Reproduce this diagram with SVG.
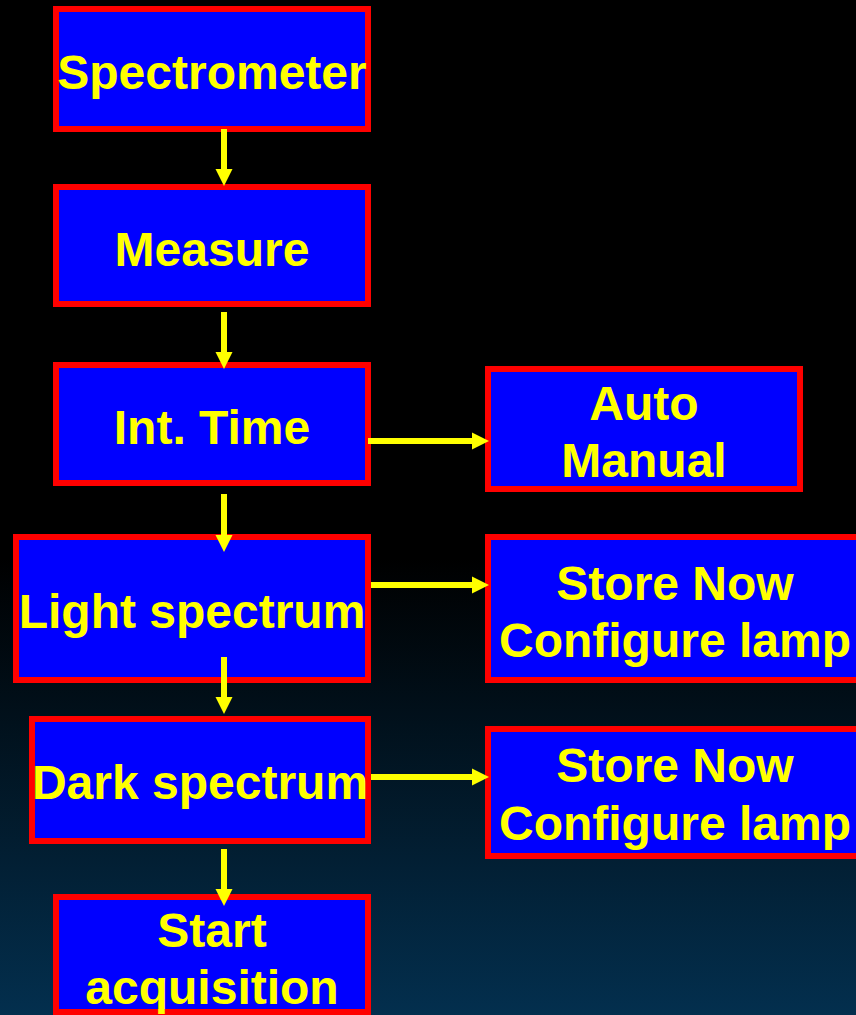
<svg xmlns="http://www.w3.org/2000/svg" width="856" height="1015" viewBox="0 0 856 1015">
<defs>
<linearGradient id="bg" x1="0" y1="0" x2="0" y2="1">
<stop offset="0" stop-color="#000000"/>
<stop offset="0.55" stop-color="#000000"/>
<stop offset="1" stop-color="#032f4e"/>
</linearGradient>
<marker id="ah" markerUnits="userSpaceOnUse" markerWidth="18" markerHeight="18" viewBox="0 -9 18 18" refX="0" refY="0" orient="auto" overflow="visible">
<path d="M0,-8.5 L17,0 L0,8.5 Z" fill="#ffff00"/>
</marker>
<style>
.box{fill:#0000ff;stroke:#ff0000;stroke-width:6}
.t{font-family:"Liberation Sans",Arial,sans-serif;font-weight:bold;font-size:48px;fill:#ffff00;text-anchor:middle}
.c{stroke:#ffff00;stroke-width:6;fill:none;marker-end:url(#ah)}
</style>
</defs>
<rect x="0" y="0" width="856" height="1015" fill="url(#bg)"/>
<g id="spectrometer"><rect class="box" x="56" y="9" width="312" height="120"/><text class="t" x="212" y="89">Spectrometer</text></g>
<g id="measure"><rect class="box" x="56" y="187" width="312" height="117"/><text class="t" x="212" y="266">Measure</text></g>
<g id="inttime"><rect class="box" x="56" y="365" width="312" height="118"/><text class="t" x="212" y="444">Int. Time</text></g>
<g id="automanual"><rect class="box" x="488" y="369" width="312" height="120"/><text class="t" x="644" y="420">Auto</text><text class="t" x="644" y="477">Manual</text></g>
<g id="light"><rect class="box" x="16" y="537" width="352" height="143"/><text class="t" x="192" y="628">Light spectrum</text></g>
<g id="store1"><rect class="box" x="488" y="537" width="380" height="143"/><text class="t" x="675" y="600">Store Now</text><text class="t" x="675" y="657">Configure lamp</text></g>
<g id="dark"><rect class="box" x="32" y="719" width="336" height="122"/><text class="t" x="200" y="799">Dark spectrum</text></g>
<g id="store2"><rect class="box" x="488" y="729" width="380" height="127"/><text class="t" x="675" y="782">Store Now</text><text class="t" x="675" y="840">Configure lamp</text></g>
<g id="start"><rect class="box" x="56" y="897" width="312" height="115"/><text class="t" x="212" y="947">Start</text><text class="t" x="212" y="1004">acquisition</text></g>
<g id="connectors">
<path class="c" d="M224,129 V169"/>
<path class="c" d="M224,312 V352"/>
<path class="c" d="M224,494 V535"/>
<path class="c" d="M224,657 V697"/>
<path class="c" d="M224,849 V889"/>
<path class="c" d="M368,441 H472"/>
<path class="c" d="M371,585 H472"/>
<path class="c" d="M371,777 H472"/>
</g>
</svg>
